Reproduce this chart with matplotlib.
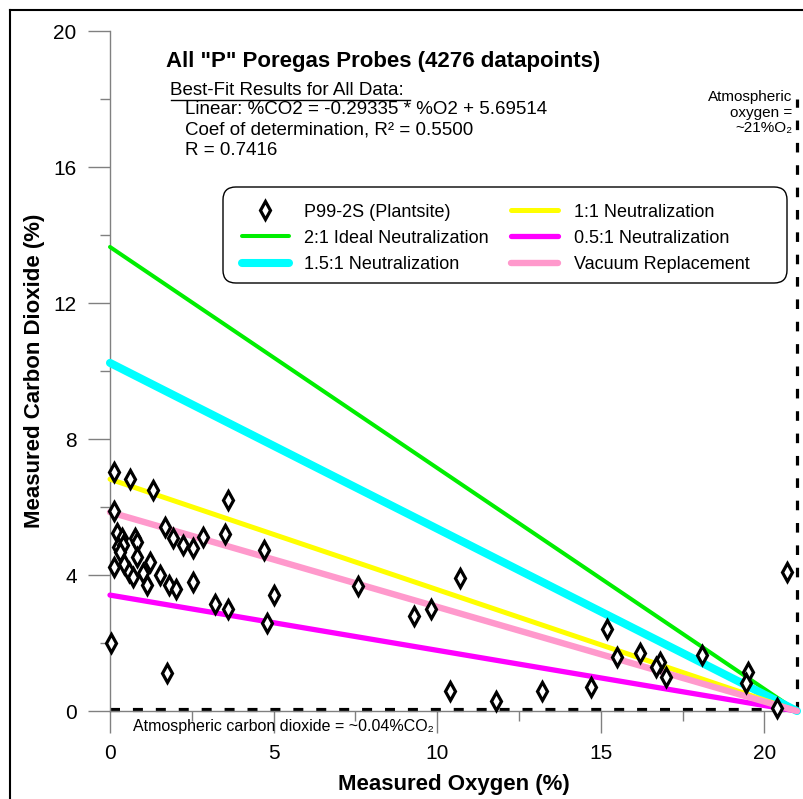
import matplotlib
matplotlib.use("Agg")
import matplotlib.pyplot as plt
from matplotlib.lines import Line2D
from matplotlib.patches import FancyBboxPatch

plt.rcParams['font.family'] = ['Liberation Sans', 'DejaVu Sans']

# ---------------- data ----------------
o2 = [0.12, 0.61, 1.32, 3.6, 0.12, 1.68, 0.22, 0.36, 0.76, 0.82, 1.94, 2.22,
      2.53, 2.84, 3.52, 4.7, 0.25, 0.4, 0.3, 0.83, 1.22, 0.12, 0.43, 0.58,
      0.7, 1.01, 1.13, 1.53, 1.8, 2.02, 2.53, 3.21, 3.6, 4.8, 5.02, 7.58,
      0.03, 1.74, 10.7, 9.3, 9.8, 10.4, 11.8, 13.2, 14.7, 15.2, 15.5, 16.2,
      16.8, 16.7, 17.0, 18.1, 19.5, 19.45, 20.4, 20.7]
co2 = [7.03, 6.82, 6.5, 6.2, 5.88, 5.41, 5.24, 5.09, 5.09, 4.97, 5.09, 4.88,
       4.79, 5.12, 5.2, 4.74, 4.82, 4.88, 4.68, 4.53, 4.38, 4.24, 4.32, 4.09,
       3.94, 4.06, 3.71, 4.0, 3.71, 3.59, 3.79, 3.15, 3.0, 2.59, 3.41, 3.68,
       2.0, 1.12, 3.91, 2.79, 3.0, 0.59, 0.3, 0.59, 0.7, 2.41, 1.59, 1.71,
       1.44, 1.29, 1.0, 1.65, 1.15, 0.82, 0.09, 4.09]

# neutralization lines: CO2 at O2 = 0, all end at (21, 0)
line_names = ["2:1 Ideal Neutralization", "1.5:1 Neutralization", "1:1 Neutralization",
              "0.5:1 Neutralization", "Vacuum Replacement"]
line_co2_start = [13.65, 10.24, 6.82, 3.41, 5.85]
line_colors = ["#00ee00", "#00ffff", "#ffff00", "#ff00ff", "#ff99cc"]
line_widths = [2.9, 5.8, 3.6, 3.8, 4.6]

atm_o2 = 21.0
atm_co2 = 0.04

# ---------------- figure ----------------
fig = plt.figure(figsize=(8.04, 7.99), dpi=100)
ax = fig.add_axes([0.1368, 0.1101, 0.8545, 0.851])

ax.plot(o2, co2, linestyle="none", marker="d", markersize=9, markerfacecolor="white",
        markeredgecolor="black", markeredgewidth=2.3, label="P99-2S (Plantsite)",
        clip_on=False, zorder=5)

for name, y0, c, lw in zip(line_names, line_co2_start, line_colors, line_widths):
    ax.plot([0, atm_o2], [y0, 0], color=c, lw=lw, label=name, solid_capstyle="round",
            clip_on=False, zorder=3)

# atmospheric reference lines
ax.plot([0, atm_o2], [atm_co2, atm_co2], color="black", lw=3, dashes=(2.4, 3.1),
        clip_on=False, zorder=2)
ax.plot([atm_o2, atm_o2], [0, 18.0], color="black", lw=2.3, dashes=(3.0, 4.0),
        clip_on=False, zorder=2)

ax.set_xlim(0, 21)
ax.set_ylim(0, 20)
for s in ["top", "right"]:
    ax.spines[s].set_visible(False)
for s in ["left", "bottom"]:
    ax.spines[s].set_color("#808080")
    ax.spines[s].set_linewidth(1.0)

ax.set_xticks([0, 5, 10, 15, 20])
ax.set_xticks([2.5, 7.5, 12.5, 17.5], minor=True)
ax.set_yticks([0, 4, 8, 12, 16, 20])
ax.set_yticks([2, 6, 10, 14, 18], minor=True)
ax.tick_params(which="major", direction="out", length=16, width=1.0, color="#808080",
               labelsize=15, pad=8)
ax.tick_params(which="minor", direction="out", length=7, width=1.0, color="#808080")

ax.set_xlabel("Measured Oxygen (%)", fontsize=16, fontweight="bold", labelpad=8)
ax.set_ylabel("Measured Carbon Dioxide (%)", fontsize=16, fontweight="bold", labelpad=6)

# title and fit results
ax.text(1.7, 19.1, 'All "P" Poregas Probes (4276 datapoints)', fontsize=16,
        fontweight="bold", va="center", ha="left")
ax.text(1.83, 18.26, "Best-Fit Results for All Data:", fontsize=13.5, va="center", ha="left")
ax.plot([1.86, 9.17], [17.97, 17.97], color="black", lw=1.0, clip_on=False)
ax.text(2.3, 17.7, "Linear: %CO2 = -0.29335 * %O2 + 5.69514", fontsize=13.5, va="center")
ax.text(2.3, 17.1, "Coef of determination, R\u00b2 = 0.5500", fontsize=13.5, va="center")
ax.text(2.3, 16.5, "R = 0.7416", fontsize=13.5, va="center")

ax.text(20.85, 17.6, "Atmospheric\noxygen =\n~21%O\u2082", fontsize=11, ha="right",
        va="center", linespacing=1.15)
ax.text(0.7, -0.45, "Atmospheric carbon dioxide = ~0.04%CO\u2082", fontsize=11.5,
        ha="left", va="center")

# rounded legend box drawn separately (reference box is wider than the entries)
box = FancyBboxPatch((223 / 804, 1 - 283 / 799), 564 / 804, 96 / 799,
                     boxstyle="round,pad=0,rounding_size=0.016",
                     transform=fig.transFigure, facecolor="white", edgecolor="black",
                     lw=1.0, zorder=8, clip_on=False)
ax.add_patch(box)

leg = ax.legend(ncol=2, loc="upper left", bbox_to_anchor=(0.192, 0.746),
                borderaxespad=0, borderpad=0, fontsize=13, numpoints=1,
                handlelength=2.6, handletextpad=0.85, columnspacing=1.25,
                labelspacing=0.5, frameon=False)
leg.set_zorder(10)

# figure border (left and top edges visible)
fig.add_artist(Line2D([10 / 804, 10 / 804], [0, 1 - 10 / 799], color="black", lw=1.5))
fig.add_artist(Line2D([10 / 804, 1], [1 - 10 / 799, 1 - 10 / 799], color="black", lw=1.5))

fig.savefig("out.png", dpi=100)
